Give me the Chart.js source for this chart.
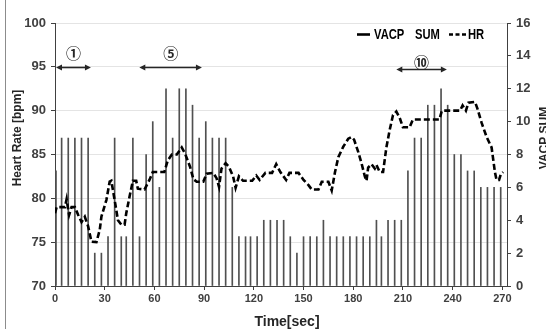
<!DOCTYPE html>
<html>
<head>
<meta charset="utf-8">
<script src="https://cdn.jsdelivr.net/npm/chart.js@4.4.0/dist/chart.umd.min.js"></script>
<style>
  html, body { margin: 0; padding: 0; background: #fff; }
  .chart-container { position: relative; width: 546px; height: 333px; }
</style>
</head>
<body>
<div class="chart-container"><canvas id="hrChart" width="546" height="333"></canvas></div>
<script>
// VACP SUM, one bar roughly every 4 s
const vacpTimes = [0.6, 4, 8, 12, 16, 20, 24, 28, 32, 36,
  40, 43, 47, 51, 55, 59, 63, 67, 71, 75,
  79, 83, 87, 91, 95, 99, 103, 107, 111, 115,
  118, 122, 126, 130, 134, 138, 142, 146, 150, 154,
  158, 162, 166, 170, 174, 178, 182, 186, 190, 194,
  197, 201, 205, 209, 213, 217, 221, 225, 229, 233,
  237, 241, 245, 249, 253, 257, 261, 265, 269];
const vacpValues = [7, 9, 9, 9, 9, 9, 2, 2, 3, 9,
  3, 3, 9, 3, 8, 10, 6, 12, 9, 12,
  12, 11, 9, 10, 9, 9, 9, 6, 3, 3,
  3, 3, 4, 4, 4, 4, 3, 2, 3, 3,
  3, 4, 3, 3, 3, 3, 3, 3, 3, 4,
  3, 4, 4, 4, 7, 9, 9, 11, 11, 12,
  11, 8, 8, 7, 7, 6, 6, 6, 6];

// heart rate trace
const hrTimes = [0, 1, 6, 7, 8.5, 10, 12, 14, 16, 18, 20, 22, 25, 27, 28, 31, 33, 34, 36, 38,
  40, 42, 43, 45, 47, 49, 50, 54, 57, 59, 66, 68, 70.5, 73.5, 76.5, 78.5, 81.5, 83.5, 85.5, 89.5,
  91.5, 95.5, 97.5, 99, 100.5, 103, 105, 107.5, 109, 111, 113.5, 119, 121.5, 123.5, 127, 131, 133.5, 136, 139.5, 141.5,
  147, 150, 153, 155, 159, 161, 165, 167, 169, 171, 174, 177, 179, 180.5, 183, 185, 187, 188, 189, 191,
  193, 194, 196, 198, 200, 202, 204, 206, 208, 210, 214, 216, 232, 233.5, 244.5, 246, 248, 249.5, 253.5, 255,
  257.5, 260.5, 263.5, 264.5, 265.5, 266.5, 268, 269, 270.5];
const hrValues = [78.3, 79, 79, 79.9, 78.1, 79, 79, 78.1, 77.3, 77.9, 76.8, 75.05, 75, 76.4, 77.9, 79.8, 81.9, 82, 79.8, 77.5,
  77, 77, 78.3, 80.2, 82, 82, 81.1, 81, 82.1, 83, 83, 84.3, 85, 85, 85.8, 85.1, 83.6, 82.2, 81.9, 81.9,
  82.8, 82.9, 82.3, 81.3, 83.4, 84, 83.6, 82.5, 81.2, 82.5, 82, 82, 82.6, 82.1, 82.9, 82.9, 83.9, 83, 82.1, 82.9,
  82.9, 82.1, 81.5, 81, 81, 81.9, 81.9, 80.9, 83, 84.7, 85.9, 86.8, 87, 86.7, 85.3, 84, 82.5, 82, 83.5, 83.9,
  83.4, 83.8, 83, 83, 85.8, 87.8, 89.5, 89.9, 89.2, 88.1, 88.1, 89, 89, 90, 90, 90.6, 90, 90.9, 91, 90.2,
  88.6, 87, 85.8, 84.4, 83, 82.1, 82.1, 82.7, 83];

const timeTicks = [0, 30, 60, 90, 120, 150, 180, 210, 240, 270];
const hrTicks = [70, 75, 80, 85, 90, 95, 100];
const vacpTicks = [0, 2, 4, 6, 8, 10, 12, 14, 16];

// phase markers above the trace
const phaseNames = ['①', '⑤', '⑩'];
const phaseStart = [0.6, 50.9, 206];
const phaseEnd = [21.7, 88.7, 236.5];
const phaseLevel = [95, 95, 94.75];
const phaseLabelLevel = [96.6, 96.6, 95.55];

const axisColor = '#404040';
const tickColor = '#404040';
const gridColor = '#e4e4e4';
const sans = "'Liberation Sans', Arial, sans-serif";

function setTicks(values) {
  return scale => { scale.ticks = values.map(v => ({ value: v })); };
}

function drawArrow(ctx, x1, x2, y) {
  const head = 6, half = 3;
  ctx.beginPath();
  ctx.moveTo(x1 + head - 1, y);
  ctx.lineTo(x2 - head + 1, y);
  ctx.stroke();
  ctx.beginPath();
  ctx.moveTo(x1, y);
  ctx.lineTo(x1 + head, y - half);
  ctx.lineTo(x1 + head, y + half);
  ctx.closePath();
  ctx.fill();
  ctx.beginPath();
  ctx.moveTo(x2, y);
  ctx.lineTo(x2 - head, y - half);
  ctx.lineTo(x2 - head, y + half);
  ctx.closePath();
  ctx.fill();
}

// condensed bold text (no narrow face installed, so squeeze horizontally)
function narrowText(ctx, text, x, y, squeeze) {
  ctx.save();
  ctx.translate(x, y);
  ctx.scale(squeeze, 1);
  ctx.fillText(text, 0, 0);
  ctx.restore();
}

const extras = {
  id: 'extras',
  afterDraw(chart) {
    const { ctx, scales: { x, y } } = chart;
    ctx.save();

    // frame edge on the left
    ctx.strokeStyle = '#8c8c8c';
    ctx.lineWidth = 1;
    ctx.beginPath();
    ctx.moveTo(5.5, 0);
    ctx.lineTo(5.5, 329);
    ctx.stroke();

    // phase arrows
    ctx.strokeStyle = '#262626';
    ctx.fillStyle = '#262626';
    ctx.lineWidth = 1.6;
    ctx.textAlign = 'center';
    ctx.textBaseline = 'middle';
    phaseNames.forEach((name, i) => {
      const yy = Math.round(y.getPixelForValue(phaseLevel[i])) + 0.5;
      drawArrow(ctx, x.getPixelForValue(phaseStart[i]), x.getPixelForValue(phaseEnd[i]), yy);
      ctx.font = "bold 15px 'Noto Sans CJK JP', sans-serif";
      ctx.fillText(name, x.getPixelForValue((phaseStart[i] + phaseEnd[i]) / 2), y.getPixelForValue(phaseLabelLevel[i]));
    });

    // legend
    ctx.fillStyle = '#000';
    ctx.strokeStyle = '#000';
    ctx.lineWidth = 2.6;
    ctx.beginPath();
    ctx.moveTo(357, 34.5);
    ctx.lineTo(370, 34.5);
    ctx.stroke();
    ctx.setLineDash([4, 2.5]);
    ctx.beginPath();
    ctx.moveTo(449, 34.5);
    ctx.lineTo(467, 34.5);
    ctx.stroke();
    ctx.setLineDash([]);
    ctx.font = 'bold 14px ' + sans;
    ctx.textAlign = 'left';
    narrowText(ctx, 'VACP', 374, 35, 0.8);
    narrowText(ctx, 'SUM', 415, 35, 0.8);
    narrowText(ctx, 'HR', 468, 35, 0.8);

    // axis titles
    ctx.fillStyle = '#262626';
    ctx.font = 'bold 14px ' + sans;
    ctx.textAlign = 'center';
    ctx.fillText('Time[sec]', 287, 322);

    ctx.font = 'bold 12px ' + sans;
    ctx.save();
    ctx.translate(17.5, 138);
    ctx.rotate(-Math.PI / 2);
    ctx.fillText('Heart Rate [bpm]', 0, 0);
    ctx.restore();

    ctx.save();
    ctx.translate(545, 138);
    ctx.rotate(-Math.PI / 2);
    ctx.fillText('VACP SUM', 0, 0);
    ctx.restore();

    ctx.restore();
  }
};

new Chart(document.getElementById('hrChart'), {
  type: 'bar',
  data: {
    datasets: [
      {
        type: 'line',
        label: 'HR',
        data: hrTimes.map((t, i) => ({ x: t, y: hrValues[i] })),
        xAxisID: 'x',
        yAxisID: 'y',
        borderColor: '#000',
        borderWidth: 2.6,
        borderDash: [6, 3],
        pointRadius: 0,
        tension: 0,
        fill: false,
        order: 1
      },
      {
        type: 'bar',
        label: 'VACP SUM',
        data: vacpTimes.map((t, i) => ({ x: t, y: vacpValues[i] })),
        xAxisID: 'x',
        yAxisID: 'y1',
        backgroundColor: '#505050',
        borderWidth: 0,
        barThickness: 1,
        order: 2
      }
    ]
  },
  options: {
    responsive: false,
    devicePixelRatio: 1,
    animation: false,
    layout: { padding: { top: 23, left: 0, right: 0, bottom: 0 } },
    plugins: {
      legend: { display: false },
      tooltip: { enabled: false }
    },
    scales: {
      x: {
        type: 'linear',
        min: 0,
        max: 272.8,
        offset: false,
        afterBuildTicks: setTicks(timeTicks),
        afterFit: s => { s.height = 47; },
        grid: { drawOnChartArea: false, offset: false, tickLength: 4, tickColor: axisColor },
        border: { color: axisColor, width: 1 },
        ticks: { color: tickColor, font: { family: sans, size: 11, weight: 'bold' }, padding: 2, maxRotation: 0 }
      },
      y: {
        position: 'left',
        min: 70,
        max: 100,
        afterBuildTicks: setTicks(hrTicks),
        afterFit: s => { s.width = 55; },
        grid: { color: gridColor, tickColor: axisColor, tickLength: 4 },
        border: { color: axisColor, width: 1 },
        ticks: { color: tickColor, font: { family: sans, size: 13, weight: 'bold' }, padding: 5 }
      },
      y1: {
        position: 'right',
        min: 0,
        max: 16,
        afterBuildTicks: setTicks(vacpTicks),
        afterFit: s => { s.width = 39; },
        grid: { drawOnChartArea: false, tickColor: axisColor, tickLength: 4 },
        border: { color: axisColor, width: 1 },
        ticks: { color: tickColor, font: { family: sans, size: 13, weight: 'bold' }, padding: 5 }
      }
    }
  },
  plugins: [extras]
});
</script>
</body>
</html>
